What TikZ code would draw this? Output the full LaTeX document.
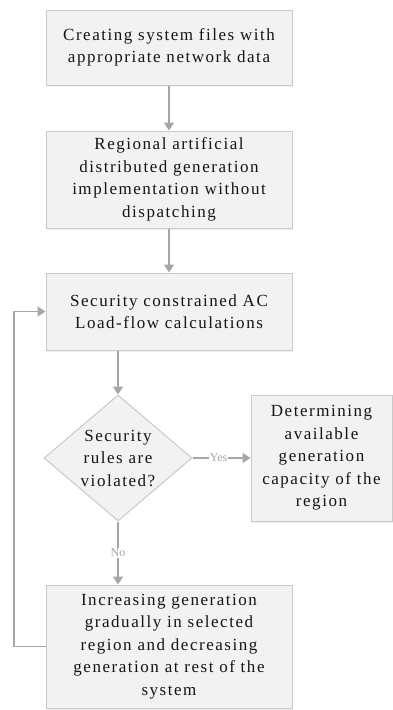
\documentclass[tikz,border=0pt]{standalone}
\usepackage{fontspec}
\setmainfont{Liberation Serif}[LetterSpace=9]
\newfontfamily\lblfont{Liberation Serif}
\usetikzlibrary{shapes.geometric,arrows.meta,shadows}
\definecolor{boxfill}{HTML}{F2F2F2}
\definecolor{boxline}{HTML}{C9C9C9}
\definecolor{arr}{HTML}{A6A6A6}
\definecolor{txt}{HTML}{141414}
\tikzset{
  procbox/.style={draw=boxline, line width=1pt, fill=boxfill, rectangle, inner sep=0pt,
    align=center, text=txt, font=\fontsize{17}{22.5}\selectfont,
    drop shadow={opacity=0.12, shadow xshift=1.2pt, shadow yshift=-1.5pt}},
  decbox/.style={draw=boxline, line width=1pt, fill=boxfill, diamond, inner sep=0pt, aspect=1.17,
    align=center, text=txt, font=\fontsize{17}{22.5}\selectfont},
  conn/.style={draw=arr, line width=1.6pt, -{Triangle[width=10pt,length=8pt]}},
  lbl/.style={fill=white, text=arr, font=\lblfont\fontsize{12}{13}\selectfont, inner sep=1pt}
}
\begin{document}
\begin{tikzpicture}[x=1pt,y=-1pt]
\useasboundingbox (0,0) rectangle (393,710);
\node[procbox, minimum width=246pt, minimum height=75pt] (b1) at (169,47.5)
  {Creating system files with\\appropriate network data};
\node[procbox, minimum width=246pt, minimum height=97pt] (b2) at (169,179.5)
  {Regional artificial\\distributed generation\\implementation without\\dispatching};
\node[procbox, minimum width=246pt, minimum height=77pt] (b3) at (169,311.5)
  {Security constrained AC\\Load-flow calculations};
\node[decbox, minimum width=148pt, minimum height=126pt] (d) at (118,458)
  {Security\\rules are\\violated?};
\node[procbox, minimum width=141pt, minimum height=126pt] (b4) at (321.5,458)
  {Determining\\available\\generation\\capacity of the\\region};
\node[procbox, minimum width=246pt, minimum height=123pt] (b5) at (169,646.5)
  {Increasing generation\\gradually in selected\\region and decreasing\\generation at rest of the\\system};
\coordinate (lb) at (14,646.5);
\coordinate (lt) at (14,311.5);
\draw[conn] (b1.south) -- (b2.north);
\draw[conn] (b2.south) -- (b3.north);
\draw[conn] (b3.south -| d.north) -- (d.north);
\draw[conn] (d.east) -- node[lbl, pos=0.45] {Yes} (b4.west);
\draw[conn] (d.south) -- node[lbl, pos=0.5] {No} (b5.north -| d.south);
\draw[conn] (b5.west) -- (lb) -- (lt) -- (b3.west);
\end{tikzpicture}
\end{document}
